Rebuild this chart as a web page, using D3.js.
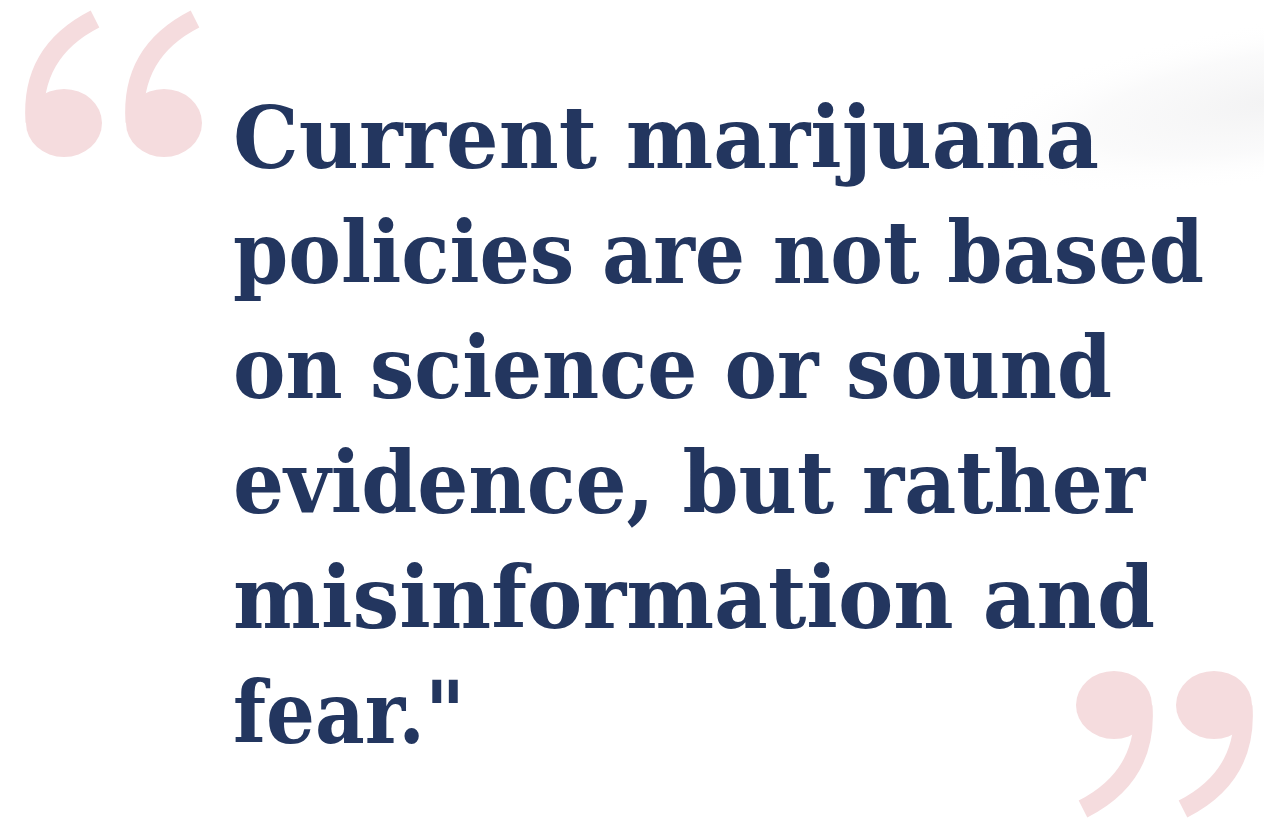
<!DOCTYPE html>
<html>
<head>
<meta charset="utf-8">
<script src="https://cdn.jsdelivr.net/npm/d3@7"></script>
<style>
  html, body { margin: 0; padding: 0; background: #fff; }
  svg { display: block; }
</style>
</head>
<body>
<svg id="chart"></svg>
<script>
// quote text, one entry per line
let lines = [
  "Current marijuana",
  "policies are not based",
  "on science or sound",
  "evidence, but rather",
  "misinformation and",
  "fear.\""
];

let width = 1264;
let height = 818;
let textLeft = 233;
let fontSize = 86;
// how wide each line sits in the picture (px)
let lineWidths = [866, 971, 879, 912, 922, 232];

let svg = d3.select("#chart")
  .attr("width", width)
  .attr("height", height);

// faint grey blur in the top right corner
let defs = svg.append("defs");
let grad = defs.append("radialGradient").attr("id", "shade");
grad.append("stop").attr("offset", "0%").attr("stop-color", "#ededee").attr("stop-opacity", 0.7);
grad.append("stop").attr("offset", "60%").attr("stop-color", "#f4f4f5").attr("stop-opacity", 0.45);
grad.append("stop").attr("offset", "100%").attr("stop-color", "#ffffff").attr("stop-opacity", 0);

svg.append("ellipse")
  .attr("cx", 1280).attr("cy", 100)
  .attr("rx", 320).attr("ry", 80)
  .attr("transform", "rotate(-9,1280,100)")
  .attr("fill", "url(#shade)");

// two "6" shaped marks; the closing pair is the same shape turned round
function drawMarks(parent) {
  [0, 100].forEach(function(ox) {
    let m = parent.append("g").attr("transform", "translate(" + ox + ",0)");
    // tail
    m.append("path")
      .attr("d", "M95,19 Q30,52 35,122")
      .attr("fill", "none")
      .attr("stroke", "#f5dcde")
      .attr("stroke-width", 19);
    // ball
    m.append("ellipse")
      .attr("cx", 64).attr("cy", 123)
      .attr("rx", 38).attr("ry", 34)
      .attr("fill", "#f5dcde");
  });
}

drawMarks(svg.append("g"));
drawMarks(svg.append("g").attr("transform", "translate(1278,828) rotate(180)"));

// line positions
let y = d3.scalePoint()
  .domain(d3.range(lines.length))
  .range([168, 743]);

svg.append("g").selectAll("text.line")
  .data(lines)
  .enter().append("text")
  .attr("class", "line")
  .attr("x", textLeft)
  .attr("y", (d, i) => y(i))
  .attr("textLength", (d, i) => lineWidths[i])
  .attr("lengthAdjust", "spacingAndGlyphs")
  .style("font-family", "'DejaVu Serif', serif")
  .style("font-weight", "bold")
  .style("font-size", fontSize + "px")
  .style("fill", "#23365f")
  .text(d => d);
</script>
</body>
</html>
